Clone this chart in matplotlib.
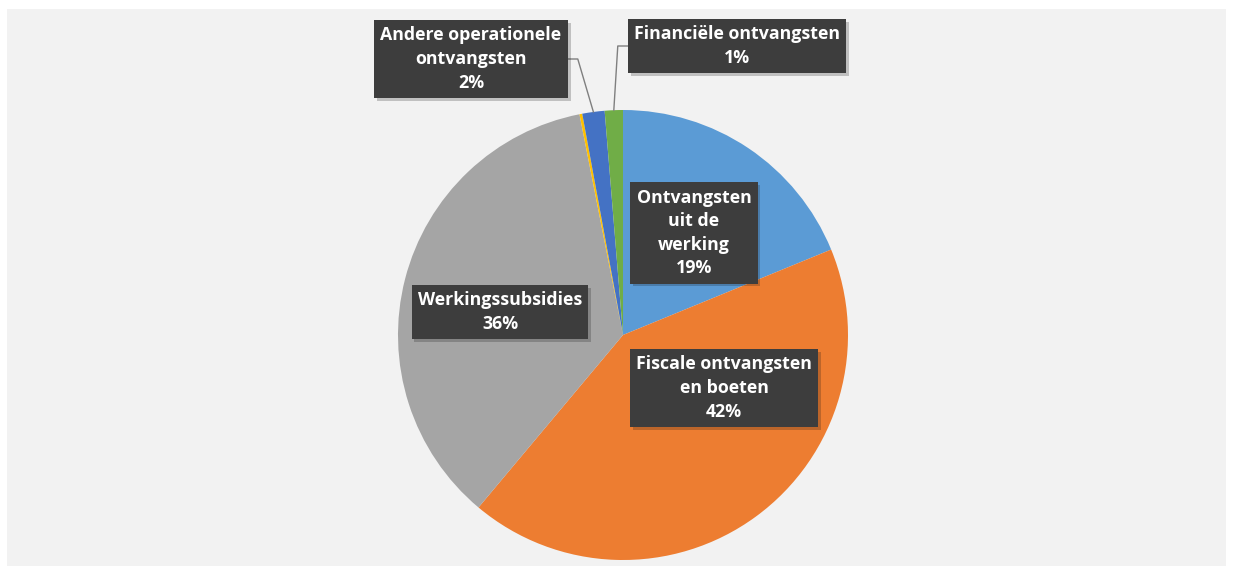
import numpy as np
import matplotlib
matplotlib.use("Agg")
import matplotlib.pyplot as plt
from matplotlib.patches import Rectangle
import matplotlib.patheffects as pe

# data, clockwise from 12 o'clock
labels = ['Ontvangsten\nuit de\nwerking', 'Fiscale ontvangsten\nen boeten', 'Werkingssubsidies',
          '', 'Andere operationele\nontvangsten', 'Financiële ontvangsten']
values = [18.8, 42.3, 35.8, 0.2, 1.6, 1.3]
colors = ['#5b9bd5', '#ed7d31', '#a5a5a5', '#ffc000', '#4472c4', '#70ad47']

# label box centres in pixels (x, y from top); None = no label
label_pos = [(694, 233), (724, 388), (500, 312), None, (471, 59), (737, 46)]
leader = [False, False, False, False, True, True]

W, H = 1233, 573
cx, cy, R = 623, 335, 225

fig = plt.figure(figsize=(W / 100, H / 100), dpi=100, facecolor='white')
fig.patches.append(Rectangle((7 / W, 7 / H), (W - 14) / W, (H - 16) / H, transform=fig.transFigure,
                             facecolor='#f2f2f2', edgecolor='none', zorder=-10))

ax = fig.add_axes([(cx - R) / W, (H - cy - R) / H, 2 * R / W, 2 * R / H])
ax.set_facecolor('none')
ax.set_zorder(1)
wedges, _ = ax.pie(values, colors=colors, startangle=90, counterclock=False, radius=1,
                   wedgeprops=dict(linewidth=0))
ax.set_xlim(-1, 1)
ax.set_ylim(-1, 1)
ax.set_aspect('equal')
ax.axis('off')

def px2data(px, py):
    return (px - cx) / R, (cy - py) / R

total = sum(values)
start = 0.0
for i, v in enumerate(values):
    mid = start + v / 2
    start += v
    if label_pos[i] is None:
        continue
    pct = '%d%%' % round(100 * v / total)
    txt = labels[i] + '\n' + pct
    x, y = px2data(*label_pos[i])
    t = ax.text(x, y, txt, ha='center', va='center', color='white', fontsize=12.8,
                fontweight='bold', family='Open Sans', linespacing=1.4,
                bbox=dict(boxstyle='square,pad=0.35', facecolor='#3d3d3d', edgecolor='none'),
                zorder=5)
    t.get_bbox_patch().set_path_effects([pe.SimplePatchShadow(offset=(2, -2), alpha=0.22), pe.Normal()])
    if leader[i]:
        ang = np.deg2rad(90 - 360 * mid / total)
        ex, ey = np.cos(ang), np.sin(ang)
        fig.canvas.draw()
        bb = t.get_bbox_patch().get_window_extent().transformed(ax.transData.inverted())
        if x < ex:
            bx = bb.x1
            kx = bx + 10 / R
        else:
            bx = bb.x0
            kx = bx - 10 / R
        ax.plot([bx, kx, ex], [y, y, ey], color='#7f7f7f', lw=1, zorder=4, clip_on=False)

fig.savefig('out.png', dpi=100, facecolor=fig.get_facecolor())
